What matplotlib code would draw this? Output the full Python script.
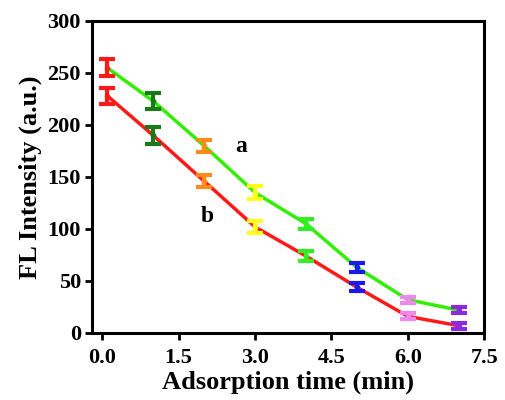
import numpy as np
import matplotlib.pyplot as plt

plt.rcParams['font.family'] = 'Liberation Serif'
plt.rcParams['font.weight'] = 'bold'

# adsorption time (min)
t = [0.1, 1, 2, 3, 4, 5, 6, 7]
# curve a (upper, green line)
fa = [255, 223, 180, 135, 105, 63, 32, 22]
ea = [8, 8, 6, 6, 5, 4, 3, 3]
# curve b (lower, red line)
fb = [228, 190, 146, 102, 74, 44, 16, 7]
eb = [8, 8, 6, 6, 5, 4, 3, 3]
pt_colors = ['#ff1a1a', '#1a7a1a', '#ff8c1a', '#ffff1a', '#33ee22', '#1a1aee', '#ee88ee', '#8a2be2']

fig = plt.figure(figsize=(5.06, 4.0), dpi=100)
ax = fig.add_axes([0.182, 0.1675, 0.775, 0.78])

ax.plot(t, fa, color='#33ee00', lw=2.5, zorder=2)
ax.plot(t, fb, color='#ff1a1a', lw=2.5, zorder=2)
for i in range(len(t)):
    for y, e in ((fa[i], ea[i]), (fb[i], eb[i])):
        ax.errorbar(t[i], y, yerr=e, fmt='o', ms=3, color=pt_colors[i],
                    ecolor=pt_colors[i], elinewidth=3, capsize=6, capthick=3, zorder=3)

ax.text(2.72, 179, 'a', fontsize=17, fontweight='bold', ha='center', va='center')
ax.text(2.07, 112, 'b', fontsize=17, fontweight='bold', ha='center', va='center')

ax.set_xlim(-0.2, 7.5)
ax.set_ylim(0, 300)
ax.set_xticks(np.arange(0, 7.6, 1.5))
ax.set_xticklabels(['0.0', '1.5', '3.0', '4.5', '6.0', '7.5'])
ax.set_yticks(np.arange(0, 301, 50))
ax.tick_params(direction='out', width=2, length=5, labelsize=16, pad=3)
ax.tick_params(axis='x', pad=6)
for s in ax.spines.values():
    s.set_linewidth(2.2)
ax.set_xlabel('Adsorption time (min)', fontsize=19, fontweight='bold', labelpad=2)
ax.set_ylabel('FL Intensity (a.u.)', fontsize=19, fontweight='bold', labelpad=4)

fig.savefig('out.png', dpi=100)
